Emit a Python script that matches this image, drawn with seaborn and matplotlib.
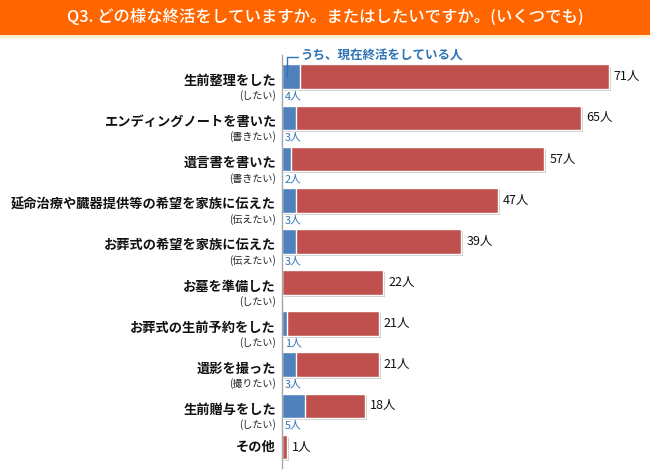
import matplotlib
matplotlib.use("Agg")
import matplotlib.pyplot as plt
import matplotlib.patheffects as pe
from matplotlib.patches import Rectangle
from matplotlib.lines import Line2D
import seaborn as sns
import pandas as pd

categories = ["生前整理をした", "エンディングノートを書いた", "遺言書を書いた",
              "延命治療や臓器提供等の希望を家族に伝えた", "お葬式の希望を家族に伝えた",
              "お墓を準備した", "お葬式の生前予約をした", "遺影を撮った", "生前贈与をした", "その他"]
sub_labels = ["(したい)", "(書きたい)", "(書きたい)", "(伝えたい)", "(伝えたい)",
              "(したい)", "(したい)", "(撮りたい)", "(したい)", ""]
totals = [71, 65, 57, 47, 39, 22, 21, 21, 18, 1]
current = [4, 3, 2, 3, 3, 0, 1, 3, 5, 0]

title = "Q3. どの様な終活をしていますか。またはしたいですか。(いくつでも)"
note = "うち、現在終活をしている人"

sns.set_theme(style="white")
plt.rcParams["font.family"] = ["Noto Sans CJK JP", "DejaVu Sans"]

df = pd.DataFrame({"cat": categories, "total": totals, "current": current})

RED = "#C0504D"
BLUE = "#4F81BD"
LBLUE = "#2E75B6"

fig = plt.figure(figsize=(6.5, 4.7), dpi=100)
fig.patch.set_facecolor("white")

# title band
fig.add_artist(Rectangle((0, 1 - 35 / 470), 1, 35 / 470, transform=fig.transFigure,
                         facecolor="#FF6600", edgecolor="none"))
fig.add_artist(Rectangle((0, 1 - 38 / 470), 1, 3 / 470, transform=fig.transFigure,
                         facecolor="#FFF2CC", edgecolor="none"))
fig.text(0.5, 1 - 17.5 / 470, title, color="white", fontsize=11.8, fontweight="medium",
         ha="center", va="center")

ax = fig.add_axes([282 / 650, 2 / 470, 368 / 650, 413 / 470])
ax.set_facecolor("none")

shadow = [pe.SimplePatchShadow(offset=(1.5, -1.5), shadow_rgbFace="#888888", alpha=0.45), pe.Normal()]

sns.barplot(data=df, x="total", y="cat", color=RED, orient="h", width=0.6,
            edgecolor="white", linewidth=1.0, saturation=1, ax=ax)
n_red = len(ax.patches)
sns.barplot(data=df, x="current", y="cat", color=BLUE, orient="h", width=0.6,
            edgecolor="white", linewidth=1.0, saturation=1, ax=ax)
for p in ax.patches[:n_red]:
    p.set_path_effects(shadow)

ax.set_xlim(0, 80)
ax.set_ylim(9.51, -0.53)
ax.set_xlabel("")
ax.set_ylabel("")
ax.set_xticks([])
ax.set_yticks([])
for s in ["top", "right", "bottom"]:
    ax.spines[s].set_visible(False)
ax.spines["left"].set_color("#A6A6A6")
ax.spines["left"].set_linewidth(1.0)

for i, (cat, sub, t, c) in enumerate(zip(categories, sub_labels, totals, current)):
    if sub:
        ax.annotate(cat, xy=(0, i), xycoords=("axes fraction", "data"),
                    xytext=(-6, -4), textcoords="offset pixels",
                    ha="right", va="center", fontsize=9.5, fontweight="bold", color="#111111")
        ax.annotate(sub, xy=(0, i), xycoords=("axes fraction", "data"),
                    xytext=(-6, -19), textcoords="offset pixels",
                    ha="right", va="center", fontsize=7.2, color="#222222")
    else:
        ax.annotate(cat, xy=(0, i), xycoords=("axes fraction", "data"),
                    xytext=(-6, 0), textcoords="offset pixels",
                    ha="right", va="center", fontsize=9.5, fontweight="bold", color="#111111")
    ax.annotate(f"{t}人", xy=(t, i), xycoords="data", xytext=(5, 0),
                textcoords="offset pixels", ha="left", va="center", fontsize=9, color="#111111")
    if c > 0:
        ax.annotate(f"{c}人", xy=(0, i), xycoords="data", xytext=(3, -20),
                    textcoords="offset pixels", ha="left", va="center", fontsize=7.8, color=LBLUE)

# callout note
ax.add_line(Line2D([287 / 650, 287 / 650, 298 / 650], [1 - 77 / 470, 1 - 57 / 470, 1 - 57 / 470],
                   transform=fig.transFigure, color=LBLUE, linewidth=1.0))
fig.text(300 / 650, 1 - 56 / 470, note, color=LBLUE, fontsize=9, fontweight="bold",
         ha="left", va="center")

fig.savefig("out.png", dpi=100)
